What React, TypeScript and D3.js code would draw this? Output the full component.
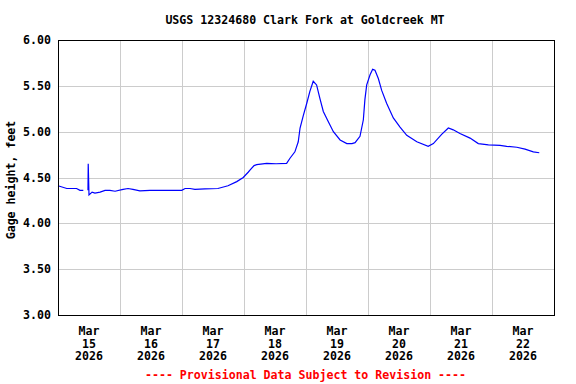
import React, { useEffect, useRef } from 'react';
import * as d3 from 'd3';

// hours after Mar 15 2026 00:00 and gage height (ft); NaN = missing data
const hours = [
  0, 3.4, 7.2, 8.5, 9.8, 10.3, 11.6, 11.7, 12.0, 13.2, 14.3, 16.3, 18.2, 20.1, 22.1, 25.2,
  27.1, 29.0, 31.7, 35.6, 39.5, 43.4, 47.9, 49.2, 51.1, 53.0, 56.9, 61.9, 65.8, 69.2,
  71.7, 73.7, 74.3, 75.9, 76.9, 80.8, 84.4, 88.5, 89.8, 91.7, 93.0, 93.7, 95.0, 96.3,
  97.5, 98.8, 100.1, 101.4, 102.7, 104.6, 106.6, 109.2, 111.8, 113.8, 115.0, 116.9,
  118.2, 118.8, 119.5, 120.8, 121.8, 122.7, 124.0, 125.3, 127.2, 129.8, 132.4, 135.0,
  138.9, 143.3, 145.3, 148.5, 151.1, 153.0, 155.6, 159.5, 162.7, 166.6, 171.1, 173.7,
  177.6, 180.8, 184.0, 186.3,
];
const gageHeight = [
  4.41, 4.38, 4.38, 4.36, 4.36, NaN, 4.36, 4.65, 4.31, 4.34, 4.33, 4.34, 4.36, 4.36, 4.35, 4.37,
  4.38, 4.37, 4.355, 4.36, 4.36, 4.36, 4.36, 4.38, 4.38, 4.37, 4.375, 4.38, 4.41, 4.455,
  4.5, 4.56, 4.58, 4.63, 4.64, 4.655, 4.65, 4.655, 4.71, 4.78, 4.89, 5.04, 5.18, 5.31,
  5.44, 5.55, 5.51, 5.36, 5.22, 5.11, 5.0, 4.91, 4.87, 4.87, 4.88, 4.95,
  5.13, 5.35, 5.51, 5.62, 5.68, 5.67, 5.58, 5.45, 5.31, 5.15, 5.05, 4.96,
  4.89, 4.84, 4.87, 4.97, 5.04, 5.02, 4.98, 4.93, 4.87, 4.855, 4.85, 4.84,
  4.83, 4.81, 4.78, 4.77,
];
const yTicks = [3, 3.5, 4, 4.5, 5, 5.5, 6];
const dayLabels = ['15', '16', '17', '18', '19', '20', '21', '22'];

const W = 576;
const H = 384;
const left = 58, right = 554, top = 40, bottom = 315;
const font = '"DejaVu Sans Mono", monospace';

const App = () => {
  const svgRef = useRef<SVGSVGElement>(null);

  useEffect(() => {
    const svg = d3.select(svgRef.current);
    svg.selectAll('*').remove();

    const start = new Date(2026, 2, 15);
    const end = new Date(2026, 2, 23);
    const x = d3.scaleTime().domain([start, end]).range([left, right]);
    const y = d3.scaleLinear().domain([3, 6]).range([bottom, top]);

    const data = hours.map((h, i) => ({ t: new Date(start.getTime() + h * 3600000), v: gageHeight[i] }));
    const days = d3.timeDay.range(d3.timeDay.offset(start, 1), end);

    // grid
    const grid = svg.append('g').attr('shape-rendering', 'crispEdges');
    grid.selectAll('line.v')
      .data(days)
      .enter().append('line')
      .attr('x1', d => Math.round(x(d)) + 0.5)
      .attr('x2', d => Math.round(x(d)) + 0.5)
      .attr('y1', top).attr('y2', bottom)
      .attr('stroke', '#cccccc');
    grid.selectAll('line.h')
      .data(yTicks.slice(1, -1))
      .enter().append('line')
      .attr('y1', d => Math.round(y(d)) + 0.5)
      .attr('y2', d => Math.round(y(d)) + 0.5)
      .attr('x1', left).attr('x2', right)
      .attr('stroke', '#cccccc');

    const line = d3.line<{ t: Date; v: number }>()
      .defined(d => !isNaN(d.v))
      .x(d => x(d.t))
      .y(d => y(d.v));

    svg.append('path')
      .datum(data)
      .attr('d', line)
      .attr('fill', 'none')
      .attr('stroke', '#0000ff')
      .attr('stroke-width', 1.2);

    svg.append('rect')
      .attr('x', left + 0.5).attr('y', top + 0.5)
      .attr('width', right - left).attr('height', bottom - top)
      .attr('fill', 'none')
      .attr('stroke', '#000')
      .attr('shape-rendering', 'crispEdges');

    const txt = (sel: any) => sel
      .attr('font-family', font)
      .attr('font-weight', 'bold')
      .attr('font-size', 11.6);

    svg.append('g').selectAll('text')
      .data(yTicks)
      .enter().append('text')
      .call(txt)
      .attr('x', 51)
      .attr('y', d => y(d) + 4)
      .attr('text-anchor', 'end')
      .text(d => d.toFixed(2));

    const xl = svg.append('g').selectAll('g')
      .data(dayLabels)
      .enter().append('g')
      .attr('transform', (d, i) => `translate(${x(d3.timeHour.offset(start, i * 24 + 12))},0)`);
    xl.append('text').call(txt).attr('text-anchor', 'middle').attr('y', 335).text('Mar');
    xl.append('text').call(txt).attr('text-anchor', 'middle').attr('y', 347.5).text(d => d);
    xl.append('text').call(txt).attr('text-anchor', 'middle').attr('y', 360).text('2026');

    svg.append('text').call(txt)
      .attr('x', 305).attr('y', 24)
      .attr('text-anchor', 'middle')
      .text('USGS 12324680 Clark Fork at Goldcreek MT');

    svg.append('text').call(txt)
      .attr('transform', 'translate(15,180) rotate(-90)')
      .attr('text-anchor', 'middle')
      .text('Gage height, feet');

    svg.append('text').call(txt)
      .attr('x', 305.5).attr('y', 379)
      .attr('text-anchor', 'middle')
      .attr('fill', '#ff0000')
      .text('---- Provisional Data Subject to Revision ----');
  }, []);

  return (
    <svg
      ref={svgRef}
      width={W}
      height={H}
      style={{ position: 'absolute', left: 0, top: 0, background: '#fff' }}
    />
  );
};

export default App;
